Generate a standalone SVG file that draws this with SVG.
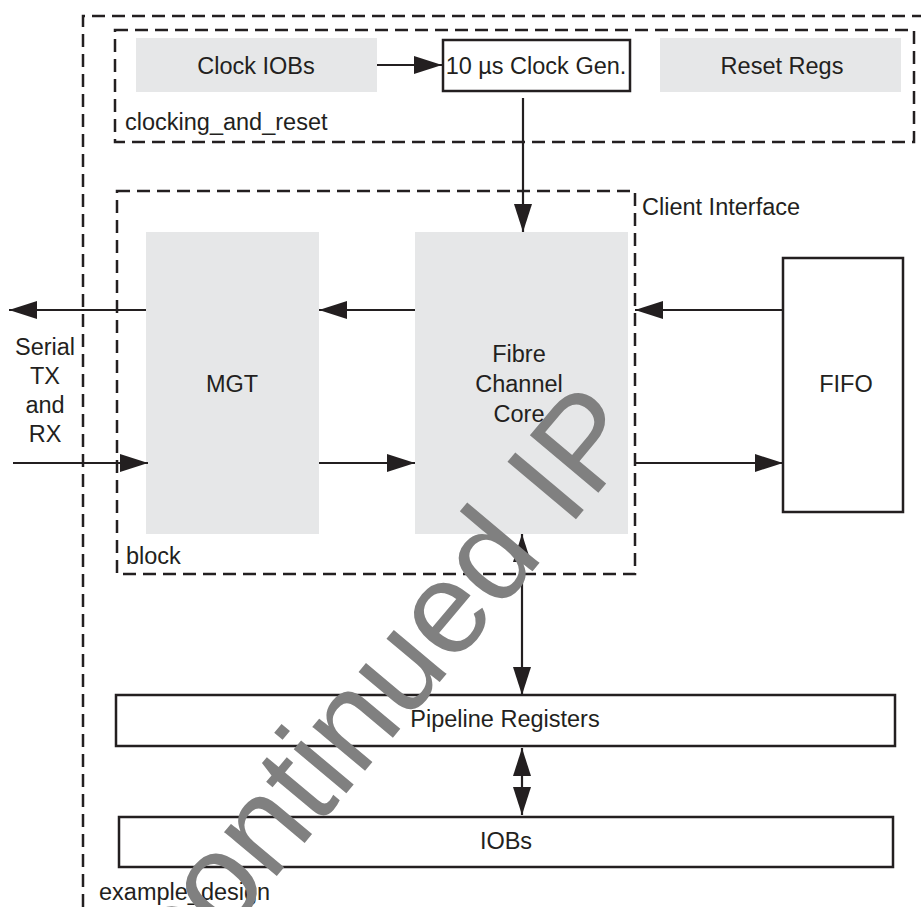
<svg xmlns="http://www.w3.org/2000/svg" width="921" height="907" viewBox="0 0 921 907">
<style>
text{font-family:"Liberation Sans",Arial,sans-serif;font-size:23.5px;fill:#231f20}
.c{text-anchor:middle}
.dash{fill:none;stroke:#231f20;stroke-width:2.5;stroke-dasharray:13 7}
.gray{fill:#e6e7e8;stroke:none}
.box{fill:#fff;stroke:#231f20;stroke-width:2.5}
.ln{fill:none;stroke:#231f20;stroke-width:2.2}
.wm{font-size:130px;fill:#808080}
</style>
<defs>
<marker id="ah" markerUnits="userSpaceOnUse" markerWidth="28" markerHeight="18" refX="28" refY="9" orient="auto-start-reverse" viewBox="0 0 28 18">
<path d="M0,0 L28,9 L0,18 z" fill="#231f20"/>
</marker>
</defs>
<rect width="921" height="907" fill="#fff"/>
<g id="example_design">
<path class="dash" d="M83,907 V16 H921"/>
<text x="99" y="900">example_design</text>
</g>
<g id="clocking_and_reset">
<rect class="dash" x="115" y="30" width="799" height="112"/>
<text x="125" y="130">clocking_and_reset</text>
</g>
<g id="block">
<rect class="dash" x="117" y="191" width="518" height="383"/>
<text x="126" y="564">block</text>
<text x="642" y="215">Client Interface</text>
</g>
<g id="clock_iobs">
<rect class="gray" x="136" y="38" width="241" height="54"/>
<text class="c" x="256" y="74">Clock IOBs</text>
</g>
<g id="clock_gen">
<rect class="box" x="443" y="40" width="187" height="51"/>
<text class="c" x="536" y="74">10 µs Clock Gen.</text>
</g>
<g id="reset_regs">
<rect class="gray" x="660" y="38" width="241" height="54"/>
<text class="c" x="782" y="74">Reset Regs</text>
</g>
<g id="mgt">
<rect class="gray" x="146" y="232" width="173" height="302"/>
<text class="c" x="232" y="392">MGT</text>
</g>
<g id="fibre_channel_core">
<rect class="gray" x="415" y="232" width="213" height="302"/>
<text class="c" x="519" y="362">Fibre</text>
<text class="c" x="519" y="392">Channel</text>
<text class="c" x="519" y="422">Core</text>
</g>
<g id="fifo">
<rect class="box" x="783" y="258" width="120" height="254"/>
<text class="c" x="846" y="392">FIFO</text>
</g>
<g id="pipeline_registers">
<rect class="box" x="116" y="695" width="779" height="51"/>
<text class="c" x="505" y="727">Pipeline Registers</text>
</g>
<g id="iobs">
<rect class="box" x="119" y="817" width="774" height="50"/>
<text class="c" x="506" y="849">IOBs</text>
</g>
<g id="serial_label">
<text class="c" x="45" y="355">Serial</text>
<text class="c" x="45" y="384">TX</text>
<text class="c" x="45" y="413">and</text>
<text class="c" x="45" y="442">RX</text>
</g>
<g id="connectors">
<path class="ln" d="M377,65 H442" marker-end="url(#ah)"/>
<path class="ln" d="M523,98 V232" marker-end="url(#ah)"/>
<path class="ln" d="M783,310 H635" marker-end="url(#ah)"/>
<path class="ln" d="M415,310 H319" marker-end="url(#ah)"/>
<path class="ln" d="M146,310 H9" marker-end="url(#ah)"/>
<path class="ln" d="M13,463 H148" marker-end="url(#ah)"/>
<path class="ln" d="M319,463 H415" marker-end="url(#ah)"/>
<path class="ln" d="M635,463 H783" marker-end="url(#ah)"/>
<path class="ln" d="M522,534 V695" marker-start="url(#ah)" marker-end="url(#ah)"/>
<path class="ln" d="M522,748 V815" marker-start="url(#ah)" marker-end="url(#ah)"/>
</g>
<g id="watermark">
<text class="wm" transform="translate(62,1132) rotate(-50)">Discontinued IP</text>
</g>
</svg>
